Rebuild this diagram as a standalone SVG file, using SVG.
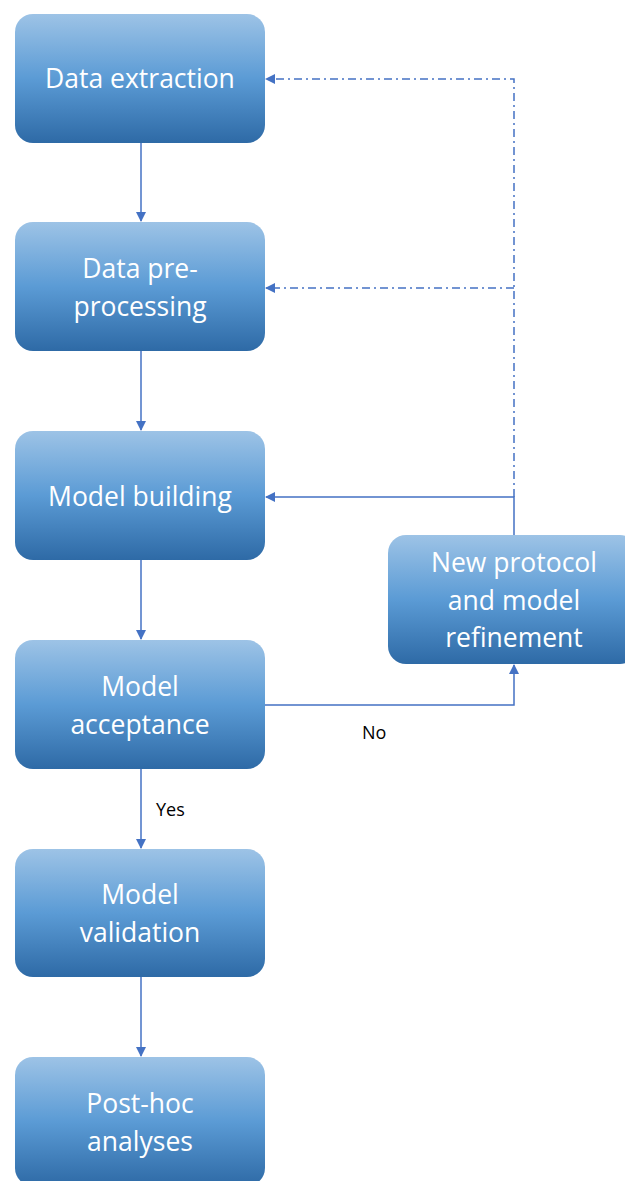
<svg xmlns="http://www.w3.org/2000/svg" width="625" height="1181" viewBox="0 0 625 1181">
<defs>
<linearGradient id="g" x1="0" y1="0" x2="0" y2="1">
<stop offset="0" stop-color="#9dc3e6"/>
<stop offset="0.5" stop-color="#5b9bd5"/>
<stop offset="1" stop-color="#2e6aa6"/>
</linearGradient>
<marker id="ah" markerWidth="10" markerHeight="10" refX="9" refY="5" orient="auto" markerUnits="userSpaceOnUse">
<path d="M0,0 L10,5 L0,10 z" fill="#4472c4"/>
</marker>
<style>
.box{fill:url(#g);}
.t{fill:#ffffff;font-family:"Open Sans",Lato,sans-serif;font-size:26.5px;text-anchor:middle;}
.c{fill:none;stroke:#4472c4;stroke-width:1.5;}
.d{stroke-dasharray:8,4,2,4;}
.lbl{fill:#000;font-family:"Open Sans",Lato,sans-serif;font-size:18px;}
</style>
</defs>
<g id="connectors">
<line class="c" x1="141" y1="143" x2="141" y2="221" marker-end="url(#ah)"/>
<line class="c" x1="141" y1="351" x2="141" y2="430" marker-end="url(#ah)"/>
<line class="c" x1="141" y1="560" x2="141" y2="639" marker-end="url(#ah)"/>
<line class="c" x1="141" y1="769" x2="141" y2="848" marker-end="url(#ah)"/>
<line class="c" x1="141" y1="977" x2="141" y2="1056" marker-end="url(#ah)"/>
<polyline class="c" points="265,705 514,705 514,665" marker-end="url(#ah)"/>
<polyline class="c" points="514,535 514,497 266,497" marker-end="url(#ah)"/>
<polyline class="c d" points="514,497 514,79 266,79" marker-end="url(#ah)"/>
<line class="c d" x1="514" y1="288" x2="266" y2="288" marker-end="url(#ah)"/>
</g>
<g id="n1"><rect class="box" x="15" y="14" width="250" height="129" rx="18"/><text class="t" x="140" y="88">Data extraction</text></g>
<g id="n2"><rect class="box" x="15" y="222" width="250" height="129" rx="18"/><text class="t" x="140" y="278">Data pre-</text><text class="t" x="140" y="316">processing</text></g>
<g id="n3"><rect class="box" x="15" y="431" width="250" height="129" rx="18"/><text class="t" x="140" y="506">Model building</text></g>
<g id="n4"><rect class="box" x="15" y="640" width="250" height="129" rx="18"/><text class="t" x="140" y="696">Model</text><text class="t" x="140" y="734">acceptance</text></g>
<g id="n5"><rect class="box" x="15" y="849" width="250" height="128" rx="18"/><text class="t" x="140" y="904">Model</text><text class="t" x="140" y="942">validation</text></g>
<g id="n6"><rect class="box" x="15" y="1057" width="250" height="129" rx="18"/><text class="t" x="140" y="1113">Post-hoc</text><text class="t" x="140" y="1151">analyses</text></g>
<g id="n7"><rect class="box" x="388" y="535" width="250" height="129" rx="18"/><text class="t" x="514" y="572">New protocol</text><text class="t" x="514" y="610">and model</text><text class="t" x="514" y="647">refinement</text></g>
<text class="lbl" x="362" y="739">No</text>
<text class="lbl" x="156" y="816">Yes</text>
</svg>
